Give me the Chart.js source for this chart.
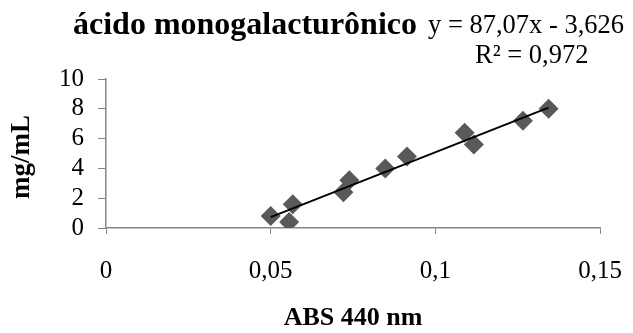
<!DOCTYPE html>
<html>
<head>
<meta charset="utf-8">
<script src="https://cdn.jsdelivr.net/npm/chart.js@4"></script>
<style>
  html, body { margin: 0; padding: 0; background: #fff; }
  #wrap { width: 633px; height: 333px; position: relative; }
</style>
</head>
<body>
<div id="wrap"><canvas id="chart" width="633" height="333"></canvas></div>
<script>
const absValues = [0.050, 0.0556, 0.0567, 0.0721, 0.0739, 0.0848, 0.0914, 0.1089, 0.1117, 0.1266, 0.1344];
const mgValues = [0.8, 0.4, 1.6, 2.4, 3.2, 4.0, 4.8, 6.4, 5.6, 7.2, 8.0];
const xTickLabels = ['0', '0,05', '0,1', '0,15'];
const yTickLabels = ['0', '2', '4', '6', '8', '10'];
const slope = 87.07;
const intercept = -3.626;
const titleText = 'ácido monogalacturônico';
const equationText = 'y = 87,07x - 3,626';
const r2Text = 'R² = 0,972';

const points = absValues.map((x, i) => ({ x: x, y: mgValues[i] }));
const xMin = Math.min(...absValues);
const xMax = Math.max(...absValues);
const trend = [
  { x: xMin, y: slope * xMin + intercept },
  { x: xMax, y: slope * xMax + intercept }
];

const serif = '"Liberation Serif", "Times New Roman", serif';
const axisColor = '#868686';

// title, trendline equation and axis titles
const textPlugin = {
  id: 'textPlugin',
  afterDraw(chart) {
    const ctx = chart.ctx;
    ctx.save();
    ctx.fillStyle = '#000';
    ctx.textBaseline = 'alphabetic';
    ctx.textAlign = 'left';
    ctx.font = 'bold 32px ' + serif;
    ctx.fillText(titleText, 73, 34);
    ctx.font = '26.5px ' + serif;
    ctx.fillText(equationText, 428, 33);
    ctx.fillText(r2Text, 475, 63);
    ctx.font = 'bold 26px ' + serif;
    ctx.textAlign = 'center';
    ctx.fillText('ABS 440 nm', 353, 325);
    ctx.font = 'bold 27px ' + serif;
    ctx.translate(29, 157);
    ctx.rotate(-Math.PI / 2);
    ctx.fillText('mg/mL', 0, 0);
    ctx.restore();
  }
};

const ctx = document.getElementById('chart').getContext('2d');
const chart = new Chart(ctx, {
  type: 'scatter',
  data: {
    datasets: [{
      label: 'dados',
      data: points,
      pointStyle: 'rectRot',
      pointRadius: 10,
      pointHoverRadius: 10,
      backgroundColor: '#595959',
      borderColor: '#595959',
      borderWidth: 0,
      order: 2
    }, {
      label: 'tendência',
      type: 'line',
      data: trend,
      borderColor: '#000',
      borderWidth: 2,
      pointRadius: 0,
      fill: false,
      order: 1
    }]
  },
  options: {
    responsive: false,
    animation: false,
    layout: {
      padding: { top: 79, right: 33, bottom: 0, left: 0 }
    },
    scales: {
      x: {
        type: 'linear',
        min: 0,
        max: 0.15,
        afterFit: (scale) => {
          scale.height = 105;
          scale.paddingLeft = 0;
          scale.paddingRight = 0;
        },
        ticks: {
          stepSize: 0.05,
          autoSkip: false,
          maxRotation: 0,
          padding: 22,
          color: '#000',
          font: { family: serif, size: 25 },
          callback: (value, index) => xTickLabels[index]
        },
        grid: {
          drawOnChartArea: false,
          drawTicks: true,
          tickLength: 6,
          color: axisColor
        },
        border: { color: axisColor, width: 1.5 }
      },
      y: {
        min: 0,
        max: 10,
        afterFit: (scale) => {
          scale.width = 106;
          scale.paddingTop = 0;
          scale.paddingBottom = 0;
        },
        ticks: {
          stepSize: 2,
          autoSkip: false,
          padding: 14,
          color: '#000',
          font: { family: serif, size: 25 },
          callback: (value, index) => yTickLabels[index]
        },
        grid: {
          drawOnChartArea: false,
          drawTicks: true,
          tickLength: 8,
          color: axisColor
        },
        border: { color: axisColor, width: 1.5 }
      }
    },
    plugins: {
      legend: { display: false },
      tooltip: { enabled: false }
    }
  },
  plugins: [textPlugin]
});
</script>
</body>
</html>
